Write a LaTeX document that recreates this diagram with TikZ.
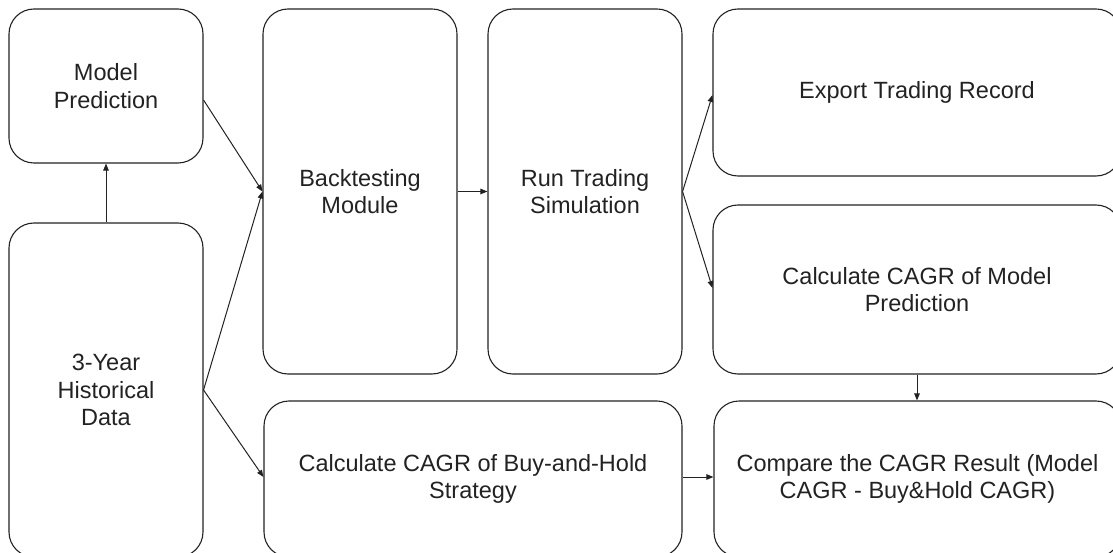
\documentclass[tikz,border=0pt]{standalone}
\usepackage{fontspec}
\setmainfont{Liberation Sans}
\usetikzlibrary{arrows.meta}
\definecolor{ink}{HTML}{222222}
\tikzset{
  box/.style={draw=ink, line width=1.1pt, rounded corners=25pt, align=center,
    inner sep=0pt, text=ink, font=\fontsize{23.5pt}{27.6pt}\selectfont},
  conn/.style={draw=ink, line width=1pt, -{Triangle[length=7pt,width=5.5pt]}}
}
\begin{document}
\begin{tikzpicture}[x=1pt,y=-1pt]
\useasboundingbox (0,0) rectangle (1113,553);
\begin{scope}
\clip (0,0) rectangle (1113,553);
\node[box, minimum width=194pt, minimum height=154pt] (mp) at (106,86) {Model\\Prediction};
\node[box, minimum width=194pt, minimum height=334pt] (hist) at (106,390) {3-Year\\Historical\\Data};
\node[box, minimum width=194pt, minimum height=365pt] (bt) at (360,191.5) {Backtesting\\Module};
\node[box, minimum width=194pt, minimum height=365pt] (run) at (585,191.5) {Run Trading\\Simulation};
\node[box, minimum width=408pt, minimum height=167pt] (exp) at (917,92.5) {Export Trading Record};
\node[box, minimum width=408pt, minimum height=169pt] (cm) at (917,289.5) {Calculate CAGR of Model\\Prediction};
\node[box, minimum width=418pt, minimum height=156pt] (bh) at (473,479) {Calculate CAGR of Buy-and-Hold\\Strategy};
\node[box, minimum width=407pt, minimum height=156pt] (cmp) at (917.5,479) {Compare the CAGR Result (Model\\CAGR - Buy\&Hold CAGR)};
\end{scope}
\draw[conn] (hist.north) -- (mp.south);
\draw[conn] ([yshift=-14pt]mp.east) -- (bt.west);
\draw[conn] (hist.east) -- (bt.west);
\draw[conn] (hist.east) -- ([yshift=2pt]bh.west);
\draw[conn] (bt.east) -- (run.west);
\draw[conn] (run.east) -- ([yshift=-2.5pt]exp.west);
\draw[conn] (run.east) -- ([yshift=1.5pt]cm.west);
\draw[conn] (cm.south) -- (cmp.north -| cm.south);
\draw[conn] ([yshift=2pt]bh.east) -- ([yshift=2pt]cmp.west);
\end{tikzpicture}
\end{document}
